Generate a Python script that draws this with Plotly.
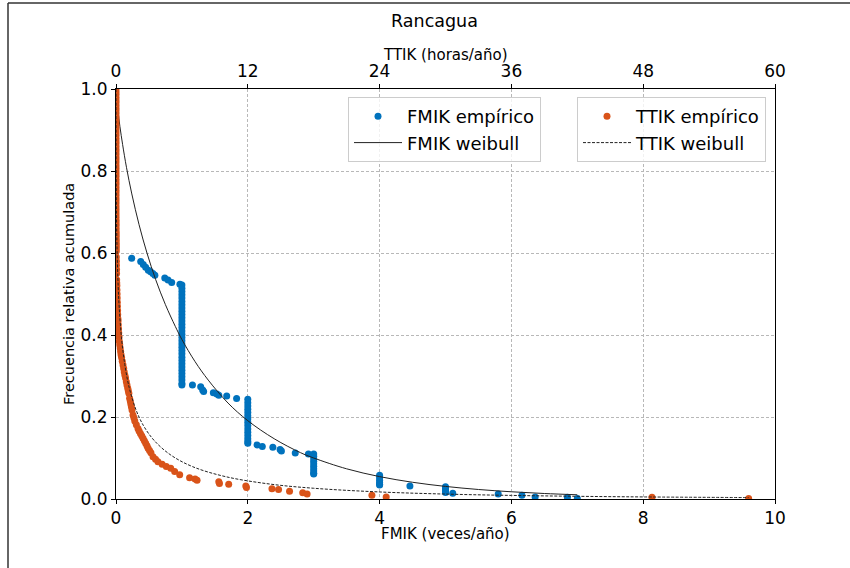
import plotly.graph_objects as go

# ---------------- data ----------------
# FMIK empirical (veces/año) - isolated points
fmik_pts_x = [0.238, 0.375, 0.414, 0.45, 0.49, 0.525, 0.56, 0.59, 0.74, 0.79, 0.845, 0.97,
              1.16, 1.285, 1.315, 1.33, 1.477, 1.53, 1.56, 1.68, 1.83,
              2.14, 2.22, 2.38, 2.49, 2.51, 2.72, 2.92,
              4.46, 5.11, 5.80, 6.16, 6.36, 6.85, 7.0]
fmik_pts_y = [0.587, 0.579, 0.572, 0.565, 0.558, 0.554, 0.550, 0.546, 0.539, 0.534, 0.528, 0.524,
              0.278, 0.274, 0.266, 0.262, 0.259, 0.256, 0.253, 0.251, 0.245,
              0.132, 0.128, 0.126, 0.121, 0.117, 0.112, 0.110,
              0.032, 0.014, 0.012, 0.009, 0.005, 0.004, 0.001]
# FMIK empirical - stacked values at integer counts
fmik_stack_x = [1, 2, 3, 4, 5]
fmik_stack_y = [
    [0.522, 0.514, 0.506, 0.498, 0.490, 0.482, 0.474, 0.466, 0.458, 0.450, 0.442, 0.434,
     0.426, 0.418, 0.410, 0.402, 0.394, 0.386, 0.378, 0.370, 0.362, 0.354, 0.346, 0.338,
     0.330, 0.322, 0.314, 0.306, 0.298, 0.290, 0.282, 0.278],
    [0.243, 0.235, 0.227, 0.219, 0.211, 0.203, 0.195, 0.187, 0.179, 0.171, 0.163, 0.155,
     0.147, 0.140, 0.136],
    [0.110, 0.104, 0.098, 0.092, 0.086, 0.080, 0.074, 0.068, 0.063, 0.061],
    [0.058, 0.052, 0.046, 0.040, 0.036, 0.034],
    [0.030, 0.026, 0.022, 0.018, 0.016],
]

# FMIK weibull curve (veces/año, frecuencia)
fmik_wb_x = [0.0, 0.01, 0.03, 0.06, 0.1, 0.16, 0.24, 0.35, 0.47, 0.6, 0.75, 0.9, 1.0, 1.2,
             1.4, 1.7, 2.0, 2.4, 2.8, 3.0, 3.5, 4.0, 4.5, 5.0, 5.5, 6.0, 6.5, 7.0]
fmik_wb_y = [1.0, 0.978, 0.947, 0.908, 0.865, 0.808, 0.744, 0.669, 0.600, 0.536, 0.474, 0.421,
             0.389, 0.335, 0.290, 0.234, 0.191, 0.147, 0.113, 0.100, 0.0736, 0.0546, 0.0408,
             0.0307, 0.0232, 0.0176, 0.0134, 0.0103]

# TTIK empirical (horas/año)
ttik_h = [0.0, 0.0, 0.0, 0.0, 0.0, 0.0, 0.0, 0.0, 0.0, 0.0, 0.0, 0.0, 0.0, 0.0, 0.0, 0.0,
          0.0, 0.0, 0.0, 0.0, 0.0, 0.0, 0.0, 0.0, 0.0, 0.0, 0.0, 0.0, 0.0, 0.0, 0.0, 0.0,
          0.0, 0.0, 0.0, 0.0, 0.0, 0.0, 0.0, 0.0, 0.0, 0.0, 0.0, 0.0, 0.0, 0.0, 0.0, 0.0,
          0.01, 0.01, 0.01, 0.01, 0.01, 0.02, 0.02, 0.02, 0.02, 0.03, 0.03, 0.03,
          0.03, 0.04, 0.04, 0.05, 0.05, 0.06, 0.07, 0.08, 0.09, 0.10, 0.11, 0.12, 0.13,
          0.145, 0.155, 0.17, 0.19, 0.21, 0.23, 0.25, 0.28, 0.30, 0.34, 0.38, 0.42, 0.46,
          0.51, 0.57, 0.64, 0.70, 0.75, 0.81, 0.87, 0.94, 1.0, 1.07, 1.12, 1.17, 1.24, 1.30,
          1.35, 1.40, 1.46, 1.55, 1.63, 1.71, 1.85, 2.0, 2.1, 2.22, 2.34, 2.46, 2.58,
          2.7, 2.82, 2.92, 3.05, 3.18, 3.37, 3.6, 3.82, 4.2, 4.58, 4.98, 5.34, 5.8, 6.7, 7.2, 7.38,
          9.36, 9.42, 10.26, 11.82, 11.88, 14.2, 14.8, 15.8, 17.0, 17.4, 23.3, 24.6, 48.8, 57.6]
ttik_y = [1.000, 0.993, 0.987, 0.980, 0.973, 0.967, 0.960, 0.953, 0.947, 0.940, 0.933, 0.927,
          0.920, 0.913, 0.907, 0.900, 0.893, 0.887, 0.880, 0.873, 0.867, 0.860, 0.853, 0.847,
          0.840, 0.833, 0.827, 0.820, 0.813, 0.807, 0.800, 0.793, 0.787, 0.780, 0.773, 0.767,
          0.760, 0.753, 0.747, 0.740, 0.733, 0.727, 0.720, 0.713, 0.707, 0.700, 0.693, 0.687,
          0.680, 0.673, 0.667, 0.660, 0.653, 0.647, 0.640, 0.633, 0.627, 0.620, 0.613, 0.605,
          0.59, 0.58, 0.57, 0.56, 0.55, 0.535, 0.527, 0.52, 0.51, 0.50, 0.49, 0.48, 0.47,
          0.46, 0.45, 0.44, 0.435, 0.425, 0.415, 0.405, 0.395, 0.385, 0.376, 0.368, 0.36, 0.352,
          0.345, 0.336, 0.327, 0.318, 0.31, 0.302, 0.295, 0.286, 0.278, 0.27, 0.264, 0.258,
          0.246, 0.239, 0.232, 0.225, 0.217, 0.205, 0.198, 0.19, 0.181, 0.172, 0.166, 0.16,
          0.154, 0.148, 0.142, 0.136, 0.13, 0.124, 0.118, 0.113, 0.103, 0.097, 0.091, 0.085,
          0.079, 0.075, 0.067, 0.059, 0.052, 0.049, 0.046, 0.042, 0.038, 0.036, 0.032, 0.028,
          0.025, 0.023, 0.019, 0.015, 0.012, 0.009, 0.005, 0.004, 0.001]

# TTIK weibull curve (horas/año, frecuencia)
ttik_wb_h = [0.0, 0.001, 0.005, 0.02, 0.05, 0.1, 0.2, 0.3, 0.5, 0.8, 1.2, 1.8, 2.5, 3.5, 5,
             7, 10, 14, 18, 24, 30, 36, 42, 48, 57.6]
ttik_wb_y = [1.0, 0.916, 0.850, 0.760, 0.678, 0.603, 0.517, 0.464, 0.393, 0.328, 0.272, 0.219,
             0.179, 0.142, 0.107, 0.0786, 0.0544, 0.0365, 0.0262, 0.0172, 0.0120, 0.00875,
             0.00658, 0.00506, 0.00347]

x_ticks = [0, 2, 4, 6, 8, 10]
x2_ticks = [0, 12, 24, 36, 48, 60]
y_ticks = [0.0, 0.2, 0.4, 0.6, 0.8, 1.0]

BLUE = "#0072BD"
ORANGE = "#D95319"
FONT = "DejaVu Sans"

# combine FMIK empirical
fx, fy = list(fmik_pts_x), list(fmik_pts_y)
for sx, ys in zip(fmik_stack_x, fmik_stack_y):
    fx += [sx] * len(ys)
    fy += ys

fig = go.Figure()
fig.add_trace(go.Scatter(x=fx, y=fy, mode="markers", name="FMIK empírico",
                         marker=dict(color=BLUE, size=7), legend="legend",
                         xaxis="x", yaxis="y"))
fig.add_trace(go.Scatter(x=fmik_wb_x, y=fmik_wb_y, mode="lines", name="FMIK weibull",
                         line=dict(color="#222222", width=1, shape="spline"), legend="legend",
                         xaxis="x", yaxis="y"))
fig.add_trace(go.Scatter(x=ttik_h, y=ttik_y, mode="markers", name="TTIK empírico",
                         marker=dict(color=ORANGE, size=7), legend="legend2",
                         xaxis="x2", yaxis="y"))
fig.add_trace(go.Scatter(x=ttik_wb_h, y=ttik_wb_y, mode="lines", name="TTIK weibull",
                         line=dict(color="#222222", width=1, dash="3px,1.5px", shape="spline"),
                         legend="legend2", xaxis="x2", yaxis="y"))

grid = dict(showgrid=True, gridcolor="#b8b8b8", gridwidth=0.8, griddash="3px,2px")
axis_common = dict(showline=True, linecolor="black", linewidth=1, ticks="outside",
                   ticklen=4, tickcolor="black", tickfont=dict(size=17, color="black", family=FONT),
                   zeroline=False)

L, R, T, B = 116, 75, 89, 69
W, H = 850, 568
pw, ph = W - L - R, H - T - B

def px(xp):
    return (xp - L) / pw

def py(yp):
    return (H - B - yp) / ph

xtitle_font = dict(size=15, family=FONT, color="black")
ytitle_font = dict(size=14.5, family=FONT, color="black")

fig.update_layout(
    width=W, height=H,
    margin=dict(l=L, r=R, t=T, b=B, pad=0),
    paper_bgcolor="white", plot_bgcolor="white",
    font=dict(family=FONT, color="black"),
    title=dict(text="Rancagua", x=434.5 / W, xanchor="center", xref="container",
               y=1 - 21 / H, yanchor="middle", yref="container",
               font=dict(size=17.5, family=FONT, color="black")),
    xaxis=dict(range=[0, 10], tickvals=x_ticks, ticktext=[str(v) for v in x_ticks],
               mirror=False, **grid, **axis_common),
    xaxis2=dict(range=[0, 60], tickvals=x2_ticks, ticktext=[str(v) for v in x2_ticks],
                overlaying="x", side="top", anchor="y", showgrid=False,
                **axis_common),
    yaxis=dict(range=[0, 1], tickvals=y_ticks, ticktext=[f"{v:.1f}" for v in y_ticks],
               mirror=True, **grid, **axis_common),
    annotations=[
        dict(text="FMIK (veces/año)", xref="paper", yref="paper", x=0.5, y=py(534),
             xanchor="center", yanchor="middle", showarrow=False, font=xtitle_font),
        dict(text="TTIK (horas/año)", xref="paper", yref="paper", x=0.5, y=py(55),
             xanchor="center", yanchor="middle", showarrow=False, font=xtitle_font),
        dict(text="Frecuencia relativa acumulada", xref="paper", yref="paper", x=px(69),
             y=0.5, xanchor="center", yanchor="middle", showarrow=False, textangle=-90,
             font=ytitle_font),
    ],
    legend=dict(x=px(348), y=py(97), xanchor="left", yanchor="top",
                bgcolor="rgba(255,255,255,0.8)", bordercolor="#cccccc", borderwidth=1,
                font=dict(size=18, family=FONT, color="black"), itemwidth=48),
    legend2=dict(x=px(577), y=py(97), xanchor="left", yanchor="top",
                 bgcolor="rgba(255,255,255,0.8)", bordercolor="#cccccc", borderwidth=1,
                 font=dict(size=18, family=FONT, color="black"), itemwidth=48),
    hovermode=False,
    shapes=[
        dict(type="line", xref="paper", yref="paper", x0=px(8), x1=px(8), y0=py(568), y1=py(3),
             line=dict(color="#333333", width=1.5)),
        dict(type="line", xref="paper", yref="paper", x0=px(8), x1=px(850), y0=py(3), y1=py(3),
             line=dict(color="#333333", width=1.5)),
    ],
)

fig.write_html("out.html", config={"displayModeBar": False},
               post_script="document.body.style.margin='0';document.body.style.padding='0';")
